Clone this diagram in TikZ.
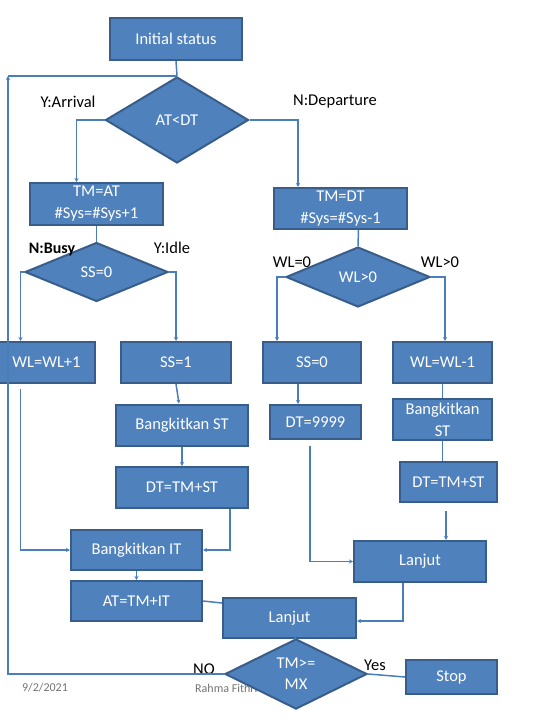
\documentclass[tikz,border=0pt]{standalone}
\usepackage{fontspec}
\setmainfont{Carlito}
\usetikzlibrary{shapes.geometric,arrows.meta}
\definecolor{boxfill}{HTML}{4F81BD}
\definecolor{boxline}{HTML}{385D8A}
\definecolor{connc}{HTML}{4A7EBB}
\begin{document}
\begin{tikzpicture}[x=1pt,y=-1pt,
 box/.style={rectangle,draw=boxline,fill=boxfill,line width=2pt,text=white,font=\fontsize{16.5}{22}\selectfont,inner sep=0pt,align=center},
 dia/.style={diamond,draw=boxline,fill=boxfill,line width=2pt,text=white,font=\fontsize{16.5}{21}\selectfont,inner sep=0pt,align=center},
 lab/.style={font=\fontsize{16.5}{18}\selectfont,text=black,inner sep=0pt},
 foot/.style={font=\fontsize{12}{14}\selectfont,text=black!55,inner sep=0pt},
 conn/.style={draw=connc,line width=1.5pt},
 arr/.style={conn,-{Stealth[length=4pt,width=4pt]}}
]
\useasboundingbox (0,0) rectangle (540,720);
% footer (behind)
\node[foot] (date) at (45,688) {9/2/2021};
\node[foot,anchor=west] (auth) at (195,688) {Rahma Fithri};
% labels behind diamonds
\node[lab] (lwl0) at (292,262) {WL=0};
% nodes
\node[box,minimum width=132,minimum height=42] (init) at (176,39) {Initial status};
\node[dia,minimum width=143,minimum height=86] (d1) at (177,120) {AT<DT};
\node[box,minimum width=133,minimum height=42] (tmat) at (96.5,204) {TM=AT\\\#Sys=\#Sys+1};
\node[box,minimum width=133,minimum height=41] (tmdt) at (340.5,208.5) {TM=DT\\\#Sys=\#Sys-1};
\node[dia,minimum width=143,minimum height=59] (d2) at (96.5,272) {SS=0};
\node[dia,minimum width=144,minimum height=60] (d3) at (358,277) {\raisebox{-3pt}{WL>0}};
\node[box,minimum width=97,minimum height=41] (wl1) at (46.5,362.5) {WL=WL+1};
\node[box,minimum width=110,minimum height=41] (ss1) at (176,362.5) {SS=1};
\node[box,minimum width=132,minimum height=41] (bst) at (182,425) {Bangkitkan ST};
\node[box,minimum width=132,minimum height=41] (dtst) at (182,487.5) {DT=TM+ST};
\node[box,minimum width=131,minimum height=40] (bit) at (136.5,550) {Bangkitkan IT};
\node[box,minimum width=131,minimum height=40] (attm) at (136.5,601) {AT=TM+IT};
\node[box,minimum width=133,minimum height=40] (lanL) at (289.5,618) {Lanjut};
\node[box,minimum width=132,minimum height=41] (lanR) at (420,561.5) {Lanjut};
\node[dia,minimum width=142,minimum height=62] (d4) at (296,674) {TM>=\\MX};
\node[box,minimum width=91,minimum height=34] (stop) at (451.5,677) {Stop};
\node[box,minimum width=98,minimum height=41] (ss0) at (312,362.5) {SS=0};
\node[box,minimum width=99,minimum height=41] (wlm1) at (442.5,362.5) {WL=WL-1};
\node[box,minimum width=91,minimum height=34] (dt9) at (315.5,422) {DT=9999};
\node[box,minimum width=99,minimum height=41] (bst2) at (442.5,419.5) {Bangkitkan\\ST};
\node[box,minimum width=97,minimum height=40] (dtst2) at (448.5,482) {DT=TM+ST};
% labels
\node[lab] (larr) at (68,102) {Y:Arrival};
\node[lab] (ldep) at (335,102) {N:Departure};
\node[lab,font=\fontsize{16}{18}\selectfont\bfseries] (lbusy) at (52,250) {N:Busy};
\node[lab] (lidle) at (172,248) {Y:Idle};
\node[lab] (lwlg) at (440,262) {WL>0};
\node[lab] (lno) at (204,669) {NO};
\node[lab] (lyes) at (375,665) {Yes};
% loop coordinate
\coordinate (lc) at (8,76);
% connectors
\draw[conn] (init.south) -- (d1.north);
\draw[arr] (d4.west) -| (lc);
\draw[conn] (lc) -- (d1.north);
\draw[arr] (d1.west) -| ([xshift=-20]tmat.north);
\draw[arr] (d1.east) -| ([xshift=-42.5]tmdt.north);
\draw[conn] (tmat.south) -- (d2.north);
\draw[conn] ([xshift=18]tmdt.south) -- (d3.north);
\draw[arr] (d2.west) -| ([xshift=-26]wl1.north);
\draw[arr] (d2.east) -| (ss1.north);
\draw[arr] (ss1.south) -- ([xshift=-3]bst.north);
\draw[arr] (bst.south) -- (dtst.north);
\draw[arr] ([xshift=-26,yshift=-5]wl1.south) |- (bit.west);
\draw[arr] ([xshift=48]dtst.south) |- (bit.east);
\draw[arr] (bit.south) -- (attm.north);
\draw[conn] (attm.east) -- ([yshift=15]lanL.west);
\draw[arr] ([xshift=-17]lanR.south) |- ([yshift=-3]lanL.east);
\draw[conn] ([xshift=4]lanL.south) -- (d4.north);
\draw[conn] (d4.east) -- (stop.west);
\draw[arr] (d3.west) -| ([xshift=-35]ss0.north);
\draw[arr] (d3.east) -| ([xshift=2.5]wlm1.north);
\coordinate (a1) at ([xshift=-14]ss0.south);
\draw[arr] (a1) -- (a1 |- dt9.north);
\draw[arr] ([xshift=-5.5,yshift=-6]dt9.south) |- (lanR.west);
\draw[conn] (wlm1.south) -- (bst2.north);
\draw[conn] (bst2.south) -- (bst2.south |- dtst2.north);
\coordinate (a2) at ([xshift=-2.5,yshift=-8]dtst2.south);
\draw[arr] (a2) -- (a2 |- lanR.north);
\end{tikzpicture}
\end{document}
